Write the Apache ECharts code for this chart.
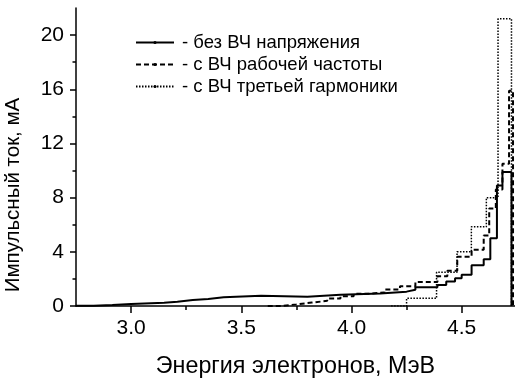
<!DOCTYPE html>
<html>
<head>
<meta charset="UTF-8">
<title>Импульсный ток</title>
<script src="https://cdn.jsdelivr.net/npm/echarts@6/dist/echarts.min.js"></script>
<style>body{margin:0;background:#fff}</style>
</head>
<body>
<div id="main" style="width:515px;height:381px"></div>
<script>
// левые края интервалов энергии, МэВ, и ток в интервале, мА
var noRfE = [2.75, 2.83, 2.915, 3.0, 3.15, 3.21, 3.28, 3.35, 3.42, 3.59, 3.80, 3.95, 4.13, 4.25, 4.29, 4.39, 4.43, 4.47, 4.50, 4.545, 4.60, 4.63, 4.66, 4.685];
var noRfI = [0.02, 0.07, 0.15, 0.24, 0.32, 0.44, 0.52, 0.64, 0.76, 0.69, 0.83, 0.93, 1.06, 1.2, 1.38, 1.55, 1.8, 2.05, 2.3, 3.0, 3.45, 5.0, 8.9, 9.9];
var noRfEnd = 4.726;

var rf1E = [3.62, 3.68, 3.75, 3.82, 3.89, 3.95, 4.01, 4.08, 4.15, 4.22, 4.29, 4.39, 4.435, 4.48, 4.545, 4.60, 4.625, 4.655, 4.685, 4.715];
var rf1I = [0, 0.12, 0.25, 0.38, 0.55, 0.72, 0.9, 1.0, 1.22, 1.45, 1.78, 2.2, 2.6, 3.64, 4.15, 5.2, 7.2, 8.6, 10.5, 15.9];
var rf1End = 4.733;

var rf3E = [4.18, 4.25, 4.386, 4.479, 4.544, 4.612, 4.665];
var rf3I = [0, 0.57, 2.5, 4.0, 5.85, 8.0, 21.2];
var rf3End = 4.726;

var names = ['- без ВЧ напряжения', '- с ВЧ рабочей частоты', '- с ВЧ третьей гармоники'];

var xMajor = [3.0, 3.5, 4.0, 4.5];
var xMinor = [3.25, 3.75, 4.25];
var yMajor = [0, 4, 8, 12, 16, 20];
var yMinor = [2, 6, 10, 14, 18];

var FONT = 'Liberation Sans';

function steps(e, v, end) {
	var d = e.map(function(x, i) { return [x, v[i]]; });
	d.push([end, 0]);
	return d;
}

var myChart = echarts.init(document.getElementById('main'));

var axisLine = { lineStyle: { color: '#000', width: 1.5 } };

myChart.setOption({
	animation: false,
	textStyle: { fontFamily: FONT, color: '#000' },
	// область графика задана вручную, без подгонки под подписи
	grid: { left: 76, right: 0, top: 8, bottom: 75, outerBoundsMode: 'none', containLabel: false },
	legend: {
		orient: 'vertical',
		left: 135,
		top: 33,
		padding: 0,
		itemWidth: 38,
		itemHeight: 4,
		itemGap: 3,
		textStyle: { fontFamily: FONT, fontSize: 18.5, lineHeight: 18, color: '#000', padding: [0, 0, 0, 3] },
		data: names
	},
	xAxis: [{
		type: 'value',
		min: 2.75,
		max: 4.742,
		axisLine: axisLine,
		splitLine: { show: false },
		axisTick: { customValues: xMajor, length: 7, lineStyle: { color: '#000', width: 1.5 } },
		axisLabel: {
			customValues: xMajor, margin: 12, fontSize: 21, color: '#000', fontFamily: FONT,
			formatter: function(v) { return v.toFixed(1); }
		},
		name: 'Энергия электронов, МэВ',
		nameLocation: 'middle',
		nameGap: 49,
		nameTextStyle: { fontSize: 23.3, color: '#000', fontFamily: FONT }
	}, {
		type: 'value',
		position: 'bottom',
		min: 2.75,
		max: 4.742,
		axisLine: { show: false },
		splitLine: { show: false },
		axisTick: { customValues: xMinor, length: 4, lineStyle: { color: '#000', width: 1.5 } },
		axisLabel: { show: false }
	}],
	yAxis: [{
		type: 'value',
		min: 0,
		max: 22,
		axisLine: { show: true, lineStyle: { color: '#000', width: 1.5 } },
		splitLine: { show: false },
		axisTick: { show: true, customValues: yMajor, length: 6, lineStyle: { color: '#000', width: 1.5 } },
		axisLabel: { customValues: yMajor, margin: 12, fontSize: 21, color: '#000', fontFamily: FONT },
		name: 'Импульсный ток, мА',
		nameLocation: 'middle',
		nameGap: 52,
		nameTextStyle: { fontSize: 20.5, color: '#000', fontFamily: FONT, padding: [0, 76, 0, 0] }
	}, {
		type: 'value',
		position: 'left',
		min: 0,
		max: 22,
		axisLine: { show: false },
		splitLine: { show: false },
		axisTick: { show: true, customValues: yMinor, length: 3.5, lineStyle: { color: '#000', width: 1.5 } },
		axisLabel: { show: false }
	}],
	series: [{
		name: names[0],
		type: 'line',
		step: 'end',
		symbol: 'circle',
		showSymbol: false,
		itemStyle: { color: '#000' },
		lineStyle: { color: '#000', width: 2, type: 'solid' },
		data: steps(noRfE, noRfI, noRfEnd)
	}, {
		name: names[1],
		type: 'line',
		step: 'end',
		symbol: 'circle',
		showSymbol: false,
		itemStyle: { color: '#000' },
		lineStyle: { color: '#000', width: 2, type: [5, 3] },
		data: steps(rf1E, rf1I, rf1End)
	}, {
		name: names[2],
		type: 'line',
		step: 'end',
		symbol: 'circle',
		showSymbol: false,
		itemStyle: { color: '#000' },
		lineStyle: { color: '#000', width: 1.5, type: [1.5, 1.5] },
		data: steps(rf3E, rf3I, rf3End)
	}]
});
</script>
</body>
</html>
